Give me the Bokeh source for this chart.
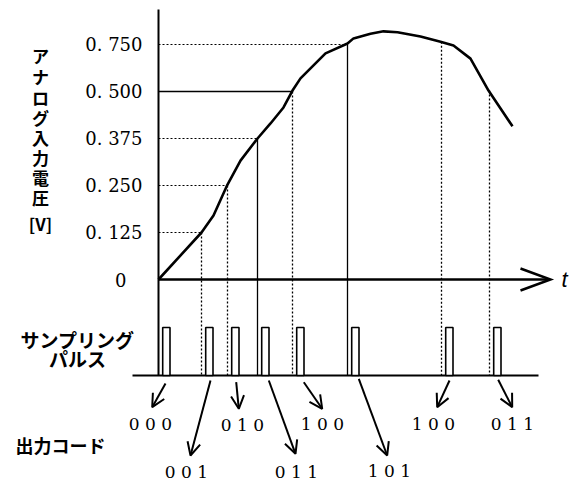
from bokeh.plotting import figure
from bokeh.models import Range1d, Arrow, OpenHead, ColumnDataSource
from bokeh.core.properties import value
from bokeh.embed import file_html
from bokeh.resources import INLINE

# ---------------- data ----------------
tick_levels = [0, 1, 2, 3, 4, 5]
tick_labels = ["0", "0. 125", "0. 250", "0. 375", "0. 500", "0. 750"]

curve_t = [0.0, 4.3, 5.5, 6.9, 8.2, 9.9, 11.2, 12.5, 13.4, 14.2, 16.7, 18.9,
           19.5, 21.2, 22.5, 23.9, 26.2, 28.2, 29.5, 31.2, 33.0, 35.4]
curve_v = [0.0, 1.0, 1.36, 2.02, 2.53, 3.0, 3.32, 3.66, 4.02, 4.28, 4.81, 5.02,
           5.13, 5.23, 5.28, 5.26, 5.17, 5.06, 4.98, 4.70, 4.02, 3.26]

sample_t = [0.0, 4.3, 6.9, 9.9, 13.4, 18.9, 28.3, 33.1]
sample_v = [0.0, 1.0, 2.0, 3.0, 4.0, 5.0, 5.06, 4.02]
codes = ["0 0 0", "0 0 1", "0 1 0", "0 1 1", "1 0 0", "1 0 1", "1 0 0", "0 1 1"]

y_title_chars = list("アナログ入力電圧")
y_unit = "[V]"
pulse_title = ["サンプリング", "パルス"]
code_title = "出力コード"
t_label = "t"

# ---------------- layout (reference pixel frame) ----------------
PX0, PXU, PY0, PYU = 158.0, 10.0, 279.0, 47.0


def X(px):
    return (px - PX0) / PXU


def Y(py):
    return (PY0 - py) / PYU


W, H = 574, 485
p = figure(width=W, height=H, output_backend="svg", toolbar_location=None,
           x_range=Range1d(X(0), X(W)), y_range=Range1d(Y(H), Y(0)),
           x_axis_type=None, y_axis_type=None, min_border=0,
           outline_line_color=None, background_fill_color="white",
           border_fill_color="white")
p.grid.visible = False

BASE = Y(375)
PULSE_TOP = Y(327)
DOT = "2 2"

# horizontal guide lines from the axis to the sample points (levels 1..5)
h_solid = [4]
h_dotted = [1, 2, 3, 5]
p.segment(x0=[0.0] * len(h_dotted), y0=[sample_v[i] for i in h_dotted],
          x1=[sample_t[i] for i in h_dotted], y1=[sample_v[i] for i in h_dotted],
          line_color="black", line_width=1.2, line_dash=DOT)
p.segment(x0=[0.0] * len(h_solid), y0=[sample_v[i] for i in h_solid],
          x1=[sample_t[i] for i in h_solid], y1=[sample_v[i] for i in h_solid],
          line_color="black", line_width=1.3)

# vertical sample lines down to the pulse baseline
v_solid = [3, 5]
v_dotted = [1, 2, 4, 6, 7]
p.segment(x0=[sample_t[i] for i in v_dotted], y0=[sample_v[i] for i in v_dotted],
          x1=[sample_t[i] for i in v_dotted], y1=[BASE] * len(v_dotted),
          line_color="black", line_width=1.3, line_dash=DOT)
p.segment(x0=[sample_t[i] for i in v_solid], y0=[sample_v[i] for i in v_solid],
          x1=[sample_t[i] for i in v_solid], y1=[BASE] * len(v_solid),
          line_color="black", line_width=1.3)

# vertical axis
p.segment(x0=[0.0], y0=[Y(9)], x1=[0.0], y1=[BASE], line_color="black", line_width=2)
# time axis with open arrow head
p.segment(x0=[0.0], y0=[0.0], x1=[X(549)], y1=[0.0], line_color="black", line_width=2.5)
p.line([X(520), X(550), X(520)], [Y(268), Y(279), Y(290)],
       line_color="black", line_width=2.5, line_join="miter")

# analog input curve
p.line(curve_t, curve_v, line_color="black", line_width=2.6, line_join="round")

# pulse baseline and sampling pulses
p.segment(x0=[X(132)], y0=[BASE], x1=[X(538)], y1=[BASE], line_color="black", line_width=2.2)
p.quad(left=[t + 0.42 for t in sample_t], right=[t + 1.15 for t in sample_t],
       bottom=[BASE] * len(sample_t), top=[PULSE_TOP] * len(sample_t),
       fill_color="white", line_color="black", line_width=1.6)

# arrows from the pulses to the output codes
arrow_start_px = [(165, 383), (210, 380), (235.7, 381.7), (268.3, 380),
                  (303.3, 381.7), (358.3, 378.3), (449, 380), (497.7, 379.3)]
arrow_end_px = [(151.7, 406.7), (190, 455), (238.3, 408.3), (295, 453.3),
                (321.7, 408.3), (386.7, 455), (436.7, 406.7), (511.7, 406.7)]
asrc = ColumnDataSource(dict(
    xs=[X(a[0]) for a in arrow_start_px], ys=[Y(a[1]) for a in arrow_start_px],
    xe=[X(a[0]) for a in arrow_end_px], ye=[Y(a[1]) for a in arrow_end_px]))
p.add_layout(Arrow(source=asrc, x_start="xs", y_start="ys", x_end="xe", y_end="ye",
                   line_color="black", line_width=2,
                   end=OpenHead(size=13, line_width=2, line_color="black")))

# output code labels
code_x_px = [150, 186, 242, 296, 322, 389, 433, 512]
code_y_px = [423, 471, 424, 471, 423, 470, 423, 423]
p.text(x=[X(v) for v in code_x_px], y=[Y(v) for v in code_y_px], text=codes,
       text_font=value("DejaVu Serif"), text_font_size="17px",
       text_align="center", text_baseline="middle", text_color="black")

# tick labels of the voltage axis
tick_x_px = [126, 142, 142, 142, 142, 142]
p.text(x=[X(v) for v in tick_x_px], y=tick_levels, text=tick_labels,
       text_font=value("DejaVu Serif"), text_font_size="18px",
       text_align="right", text_baseline="middle", text_color="black")

# vertical axis title (stacked characters)
title_y_px = [55, 76, 97, 117, 137, 157, 177, 197]
p.text(x=[X(40)] * len(y_title_chars), y=[Y(v) for v in title_y_px], text=y_title_chars,
       text_font=value("Noto Sans CJK JP"), text_font_size="17px", text_font_style="bold",
       text_align="center", text_baseline="middle", text_color="black")
p.text(x=[X(40)], y=[Y(223)], text=[y_unit],
       text_font=value("Noto Sans CJK JP"), text_font_size="17px", text_font_style="bold",
       text_align="center", text_baseline="middle", text_color="black")

# row titles
p.text(x=[X(77), X(77)], y=[Y(339), Y(358)], text=pulse_title,
       text_font=value("Noto Sans CJK JP"), text_font_size="19px", text_font_style="bold",
       text_align="center", text_baseline="middle", text_color="black")
p.text(x=[X(15)], y=[Y(444)], text=[code_title],
       text_font=value("Noto Sans CJK JP"), text_font_size="18px", text_font_style="bold",
       text_align="left", text_baseline="middle", text_color="black")

# time label
p.text(x=[X(561)], y=[Y(279)], text=[t_label],
       text_font=value("Liberation Sans"), text_font_size="22px", text_font_style="italic",
       text_align="left", text_baseline="middle", text_color="black")

open("out.html", "w").write(file_html(p, INLINE))
